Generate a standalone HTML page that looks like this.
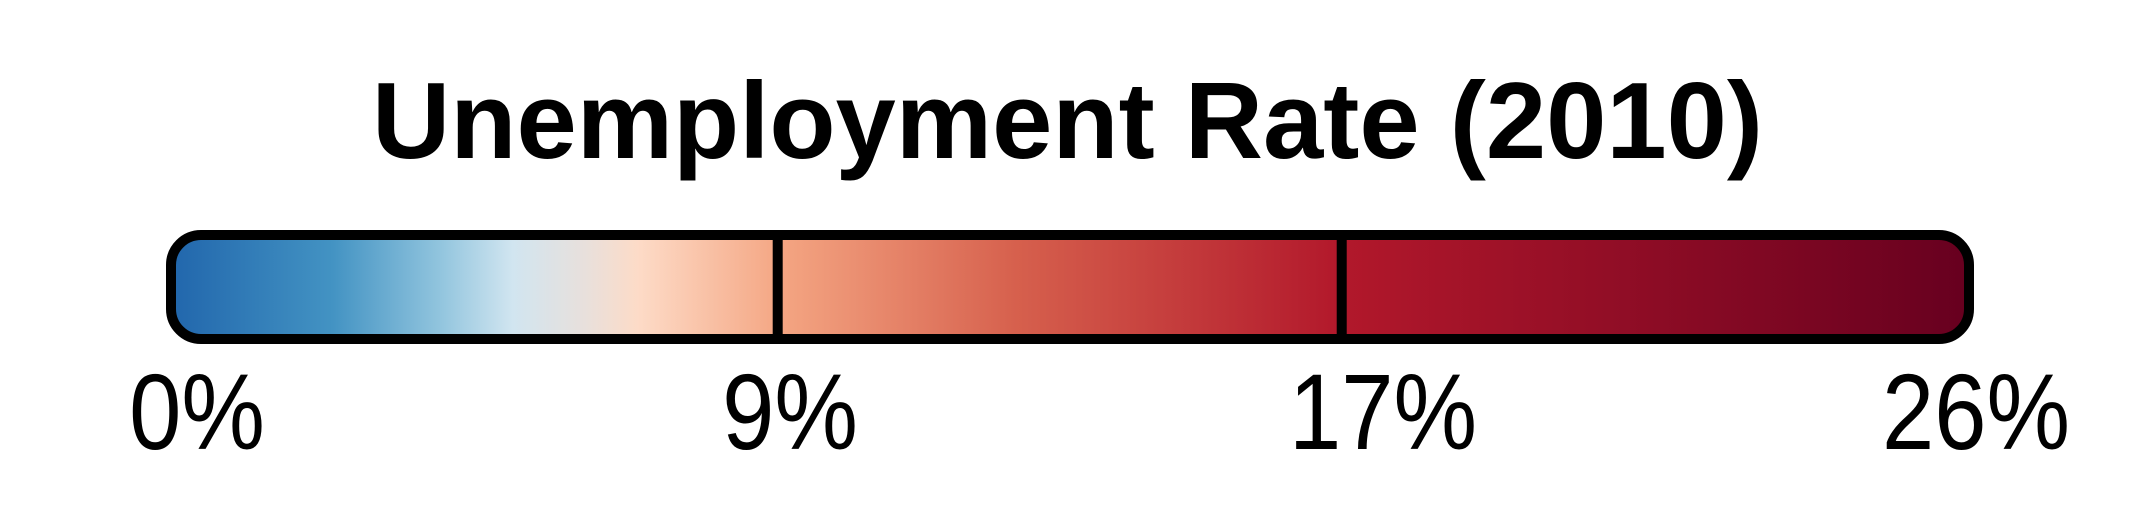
<!DOCTYPE html>
<html><head><meta charset="utf-8"><style>html,body{margin:0;padding:0;background:#fff;}svg{display:block;}</style></head>
<body>
<svg id="chart" width="2132" height="512" viewBox="0 0 2132 512" xmlns="http://www.w3.org/2000/svg">
<defs>
<linearGradient id="grad" x1="0" x2="1" y1="0" y2="0">
<stop offset="0" stop-color="#2166ac"/>
<stop offset="0.09" stop-color="#4393c3"/>
<stop offset="0.15" stop-color="#92c5de"/>
<stop offset="0.19" stop-color="#d1e5f0"/>
<stop offset="0.23" stop-color="#e8e0dc"/>
<stop offset="0.26" stop-color="#fddbc7"/>
<stop offset="0.34" stop-color="#f4a582"/>
<stop offset="0.47" stop-color="#d6604d"/>
<stop offset="0.65" stop-color="#b2182b"/>
<stop offset="1" stop-color="#67001f"/>
</linearGradient>
<clipPath id="clip"><rect x="171" y="235" width="1798" height="104" rx="30"/></clipPath>
</defs>
<text x="372" y="158" font-family="Liberation Sans, sans-serif" font-weight="bold" font-size="109" textLength="1391" lengthAdjust="spacingAndGlyphs">Unemployment Rate (2010)</text>
<g clip-path="url(#clip)">
<rect x="171" y="235" width="1798" height="104" fill="url(#grad)"/>
</g>
<g id="dividers"></g>
<rect x="171" y="235" width="1798" height="104" rx="30" fill="none" stroke="#000" stroke-width="10"/>
<g id="ticks"></g>
</svg>
<script>
const tickLabels = ["0%", "9%", "17%", "26%"];
const tickValues = [0, 9, 17, 26];
const dividerValues = [8.74, 16.96];
const domainMin = 0, domainMax = 26;
const innerX0 = 178, innerX1 = 1962;
function xScale(v){ return innerX0 + (v - domainMin) / (domainMax - domainMin) * (innerX1 - innerX0); }
const NS = "http://www.w3.org/2000/svg";
const dg = document.getElementById('dividers');
dividerValues.forEach(v => {
  const l = document.createElementNS(NS, 'line');
  const x = xScale(v);
  l.setAttribute('x1', x); l.setAttribute('x2', x);
  l.setAttribute('y1', 235); l.setAttribute('y2', 339);
  l.setAttribute('stroke', '#000'); l.setAttribute('stroke-width', 10);
  
  
  dg.appendChild(l);
});
const tg = document.getElementById('ticks');
const labelX0 = 197, labelX1 = 1976;
tickLabels.forEach((s, i) => {
  const cx = labelX0 + i / (tickLabels.length - 1) * (labelX1 - labelX0);
  const t = document.createElementNS(NS, 'text');
  t.setAttribute('x', cx / 0.87);
  t.setAttribute('y', 449);
  t.setAttribute('transform', 'scale(0.87,1)');
  t.setAttribute('text-anchor', 'middle');
  t.setAttribute('font-family', 'Liberation Sans, sans-serif');
  t.setAttribute('font-size', 108);
  t.textContent = s;
  
  
  tg.appendChild(t);
});
</script>
</body></html>
